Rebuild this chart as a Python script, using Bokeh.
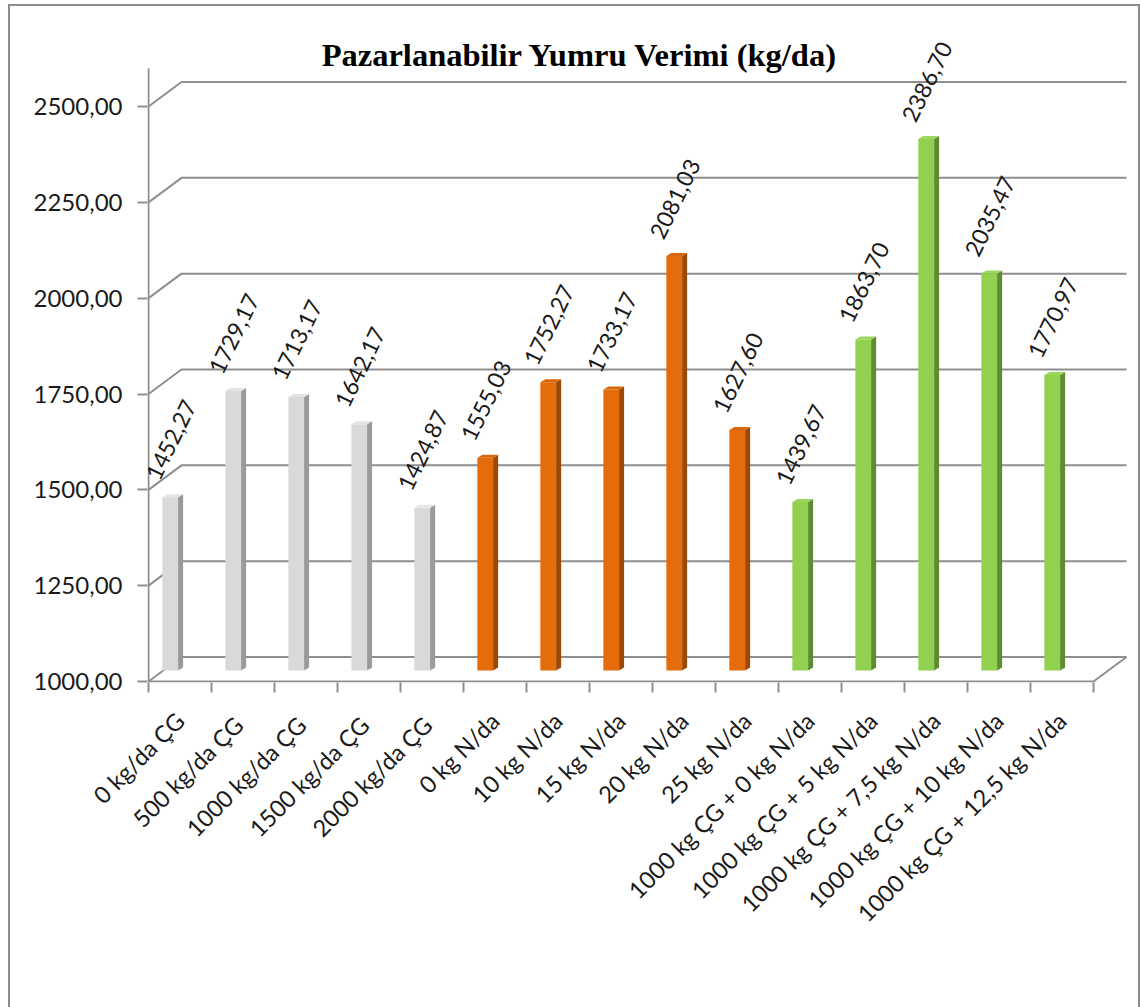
from bokeh.plotting import figure
from bokeh.models import Range1d, LinearAxis, FixedTicker
from bokeh.core.properties import value
from bokeh.embed import file_html
from bokeh.resources import INLINE

# ---------------- data ----------------
categories = ["0 kg/da ÇG", "500  kg/da ÇG", "1000  kg/da ÇG", "1500  kg/da ÇG", "2000  kg/da ÇG",
              "0 kg N/da", "10 kg N/da", "15 kg N/da", "20 kg N/da", "25 kg N/da",
              "1000 kg ÇG + 0 kg N/da", "1000 kg ÇG + 5 kg N/da", "1000 kg ÇG + 7,5 kg N/da",
              "1000 kg ÇG + 10 kg N/da", "1000 kg ÇG + 12,5 kg N/da"]
values = [1452.27, 1729.17, 1713.17, 1642.17, 1424.87,
          1555.03, 1752.27, 1733.17, 2081.03, 1627.60,
          1439.67, 1863.70, 2386.70, 2035.47, 1770.97]
groups = ["gray"] * 5 + ["orange"] * 5 + ["green"] * 5
y_ticks = [1000, 1250, 1500, 1750, 2000, 2250, 2500]
y_tick_labels = ["1000,00", "1250,00", "1500,00", "1750,00", "2000,00", "2250,00", "2500,00"]
title_text = "Pazarlanabilir Yumru Verimi (kg/da)"

face_colors = {"gray": "#d9d9d9", "orange": "#e46c0a", "green": "#92d050"}
side_colors = {"gray": "#9a9a9a", "orange": "#9c4806", "green": "#5f8c30"}
top_colors = {"gray": "#e4e4e4", "orange": "#d7660b", "green": "#9cd65e"}

# ---------------- layout constants (pixels) ----------------
W, H = 1140, 1007
FRAME_L, FRAME_R, FRAME_T, FRAME_B = 147, 1127, 8, 682
X0_PX = 148          # pixel of x = 0
Y1000_PX = 681       # pixel of y = 1000
PX_X = 63.0          # pixels per category
PX_Y = 575.0 / 1500  # pixels per y unit

def xd(px):
    return (px - X0_PX) / PX_X

def yd(py):
    return 1000 + (Y1000_PX - py) / PX_Y

n = len(values)
DX = 33 / PX_X          # depth of back wall (x)
DY = 24.5 / PX_Y        # depth of back wall (y)
BAR_L, BAR_R = 0.22, 0.47
BAR_SHIFT = 11 / PX_Y   # bars stand mid-depth
SDX = 5 / PX_X
SDY = 3 / PX_Y
AXIS_TOP = 2600

GRID = "#8f8f8f"
BORDER = "#8c8c8c"
TXT = "#1a1a1a"
FONT = "Lato"

p = figure(width=W, height=H, output_backend="svg", toolbar_location=None,
           x_range=Range1d(xd(FRAME_L), xd(FRAME_R)),
           y_range=Range1d(yd(FRAME_B), yd(FRAME_T)),
           x_axis_type=None, y_axis_type=None,
           min_border_left=FRAME_L, min_border_right=W - FRAME_R,
           min_border_top=FRAME_T, min_border_bottom=H - FRAME_B)
p.outline_line_color = None
p.xgrid.visible = False
p.ygrid.visible = False
p.background_fill_color = None
p.border_fill_color = None

# outer chart-area border (left, top, right edges; bottom lies below the window)
g = f"linear-gradient({BORDER},{BORDER})"
p.styles = {
    "background-color": "white",
    "background-image": f"{g},{g},{g}",
    "background-size": "2px 1010px, 1131px 2px, 2px 1010px",
    "background-position": "8px 4px, 8px 4px, 1138px 4px",
    "background-repeat": "no-repeat",
}

# ---------------- y axis ----------------
yax = LinearAxis(ticker=FixedTicker(ticks=y_ticks),
                 major_label_overrides={t: l for t, l in zip(y_ticks, y_tick_labels)})
yax.axis_line_color = None
yax.major_tick_line_color = GRID
yax.major_tick_line_width = 2
yax.major_tick_out = 10
yax.major_tick_in = 0
yax.minor_tick_line_color = None
yax.major_label_standoff = 15
yax.major_label_text_font = FONT
yax.major_label_text_font_size = "24px"
yax.major_label_text_color = TXT
p.add_layout(yax, "left")

# ---------------- x axis ----------------
centers = [i + 0.5 for i in range(n)]
xax = LinearAxis(ticker=FixedTicker(ticks=centers, minor_ticks=list(range(n + 1))),
                 major_label_overrides={c: lab for c, lab in zip(centers, categories)})
xax.axis_line_color = None
xax.major_tick_line_color = None
xax.minor_tick_line_color = GRID
xax.minor_tick_line_width = 2
xax.minor_tick_out = 10
xax.minor_tick_in = 0
xax.major_label_orientation = 0.7853981633974483
xax.major_label_standoff = 24
xax.major_label_text_font = FONT
xax.major_label_text_font_size = "23.5px"
xax.major_label_text_color = TXT
p.add_layout(xax, "below")

# ---------------- walls / gridlines ----------------
gx, gy = [], []
for t in y_ticks:
    gx.append([0, DX, n + DX])
    gy.append([t, t + DY, t + DY])
p.multi_line(gx, gy, line_color=GRID, line_width=2)
# front value axis line
p.segment(x0=[0], y0=[1000], x1=[0], y1=[AXIS_TOP], line_color=GRID, line_width=2)
# floor front edge and right diagonal
p.multi_line([[0, n, n + DX]], [[1000, 1000, 1000 + DY]], line_color=GRID, line_width=2)

# ---------------- bars ----------------
fx, fy, fc = [], [], []
sx, sy, sc = [], [], []
tx, ty, tc = [], [], []
base = 1000 + BAR_SHIFT
for i, (v, gname) in enumerate(zip(values, groups)):
    l, r = i + BAR_L, i + BAR_R
    top = v + BAR_SHIFT
    fx.append([l, r, r, l]); fy.append([base, base, top, top]); fc.append(face_colors[gname])
    sx.append([r, r + SDX, r + SDX, r]); sy.append([base, base + SDY, top + SDY, top]); sc.append(side_colors[gname])
    tx.append([l, r, r + SDX, l + SDX]); ty.append([top, top, top + SDY, top + SDY]); tc.append(top_colors[gname])
p.patches(fx, fy, fill_color=fc, line_color=None)
p.patches(sx, sy, fill_color=sc, line_color=None)
p.patches(tx, ty, fill_color=tc, line_color=None)

# ---------------- data labels ----------------
lab_x = [i + (BAR_L + BAR_R) / 2 for i in range(n)]
lab_y = [v + BAR_SHIFT for v in values]
lab_t = [f"{v:.2f}".replace(".", ",") for v in values]
p.text(x=lab_x, y=lab_y, text=lab_t, angle=64, angle_units="deg",
       x_offset=-18, y_offset=-19, text_align="left", text_baseline="middle",
       text_font=value(FONT), text_font_size="23px", text_color=TXT)

# ---------------- title ----------------
p.text(x=[xd(579.5)], y=[yd(54)], text=[title_text], text_align="center",
       text_baseline="alphabetic", text_font=value("Liberation Serif"),
       text_font_style="bold", text_font_size="32.5px", text_color="#000000")

open("out.html", "w").write(file_html(p, INLINE))
